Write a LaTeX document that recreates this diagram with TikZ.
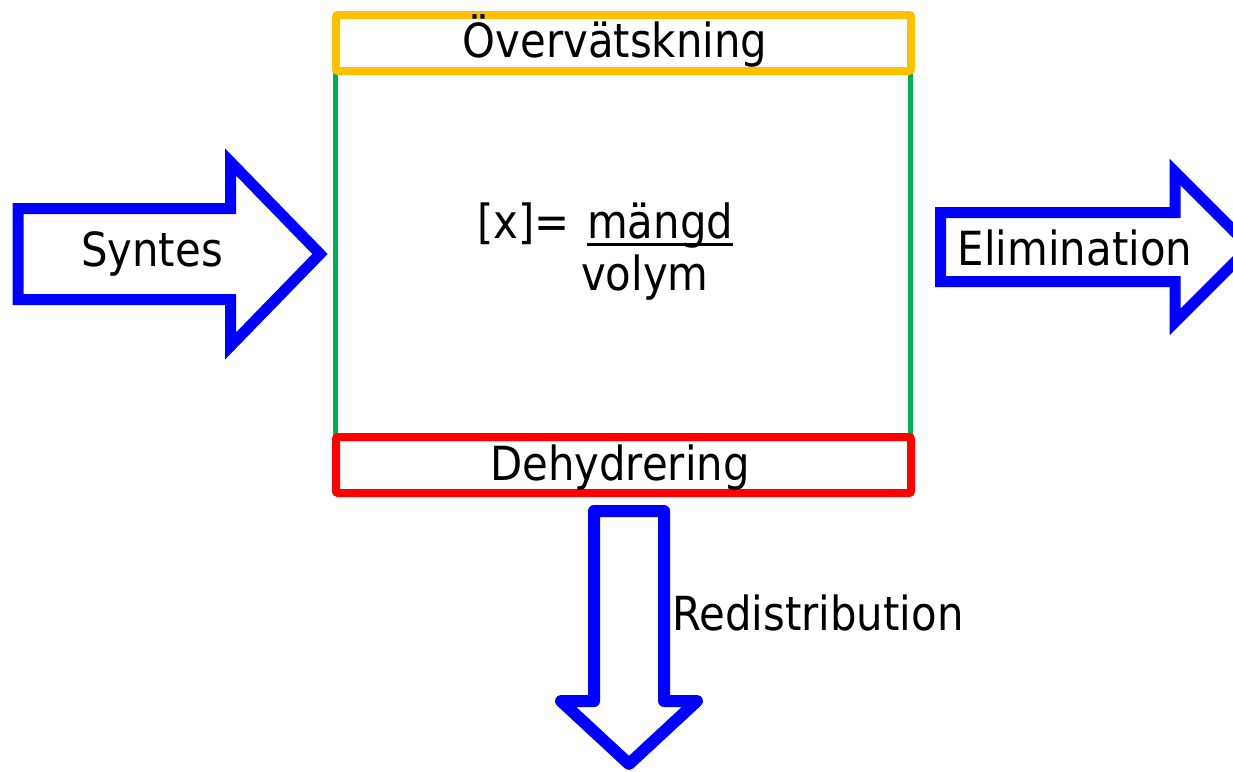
\documentclass[tikz,border=0pt]{standalone}
\usepackage{fontspec}
\setmainfont{DejaVu Sans}[FakeStretch=0.89]
\usetikzlibrary{calc}
\definecolor{arrowblue}{RGB}{0,0,255}
\definecolor{boxgreen}{RGB}{0,176,80}
\definecolor{boxorange}{RGB}{255,192,0}
\definecolor{boxred}{RGB}{255,0,0}
\begin{document}
\begin{tikzpicture}[x=1pt,y=-1pt,
  lbl/.style={font=\fontsize{47}{56}\selectfont, inner sep=0pt, anchor=base},
  bandbox/.style={line width=8pt, rounded corners=2pt, fill=white},
  sidewall/.style={draw=boxgreen, line width=5pt},
  bigarrow/.style={draw=arrowblue, line width=11pt, fill=white}]
\useasboundingbox (0,0) rectangle (1233,771);
\clip (0,0) rectangle (1233,771);

% compartment walls
\draw[sidewall] (335,70) -- (335,440);
\draw[sidewall] (910,70) -- (910,440);

% top and bottom bands
\draw[bandbox, draw=boxorange] (336,15) rectangle (911,71);
\draw[bandbox, draw=boxred] (336,437) rectangle (911,493);
\node[lbl] (over) at (615,57) {Övervätskning};
\node[lbl] (dehyd) at (620,480) {Dehydrering};

% concentration formula
\node[lbl, anchor=base west] (conc) at (477,238) {[x]=};
\node[lbl, anchor=base west] (amount) at (587,238) {mängd};
\coordinate (ul1) at ($(amount.base west)+(0,6)$);
\coordinate (ul2) at ($(amount.base east)+(0,6)$);
\draw[line width=3pt] (ul1) -- (ul2);
\node[lbl, anchor=base west] (vol) at (581,290) {volym};

% inflow arrow
\draw[bigarrow, miter limit=10]
  (18,208.5) -- (230.5,208.5) -- (230.5,162) -- (320,254)
  -- (230.5,346) -- (230.5,299.5) -- (18,299.5) -- cycle;
\node[lbl] (syn) at (152,266) {Syntes};

% outflow arrow
\draw[bigarrow, miter limit=10]
  (940.5,212.5) -- (1175,212.5) -- (1175,172) -- (1250,247)
  -- (1175,322) -- (1175,281.5) -- (940.5,281.5) -- cycle;
\node[lbl] (elim) at (1075,265) {Elimination};

% redistribution arrow
\draw[bigarrow, line width=12pt, line join=round]
  (594,511) -- (664,511) -- (664,701) -- (697,701) -- (629,764)
  -- (561,701) -- (594,701) -- cycle;
\node[lbl, anchor=base west] (redis) at (672,630) {Redistribution};
\end{tikzpicture}
\end{document}
